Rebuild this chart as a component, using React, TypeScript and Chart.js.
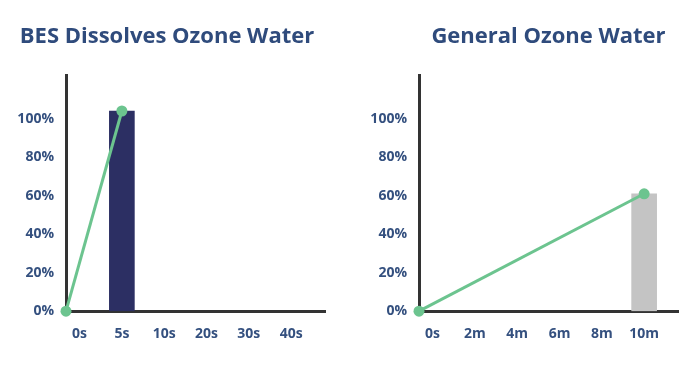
import React, { useEffect, useRef } from "react";
import { Chart, registerables } from "chart.js";

Chart.register(...registerables);

// ---- data ----
const leftTitle = "BES Dissolves Ozone Water";
const leftLabels = ["0s", "5s", "10s", "20s", "30s", "40s"];
const leftBarIndex = 1; // 5s
const leftBarValue = 104;
const leftLineStart = 0;
const leftLineEnd = 104;

const rightTitle = "General Ozone Water";
const rightLabels = ["0s", "2m", "4m", "6m", "8m", "10m"];
const rightBarIndex = 5; // 10m
const rightBarValue = 61;
const rightLineStart = 0;
const rightLineEnd = 61;

const yTicks = [0, 20, 40, 60, 80, 100];

// ---- style ----
const TEXT = "#2f4b7c";
const TICK = "#34507f";
const AXIS = "#333333";
const GREEN = "#6cc48f";
const FONT = "'Open Sans'";
const X_MIN = -0.32;
const X_MAX = 5.8;
const Y_MAX = 122.5;

type Props = {
  title: string;
  labels: string[];
  barIndex: number;
  barValue: number;
  lineStart: number;
  lineEnd: number;
  barColor: string;
  yAxisWidth: number;
  padLeft: number;
  padRight: number;
  titleFull: boolean;
  left: number;
  width: number;
};

function OzoneChart(p: Props) {
  const ref = useRef<HTMLCanvasElement | null>(null);
  useEffect(() => {
    if (!ref.current) return;
    const chart = new Chart(ref.current, {
      type: "bar",
      data: {
        datasets: [
          {
            type: "line",
            data: [
              { x: X_MIN, y: p.lineStart },
              { x: p.barIndex, y: p.lineEnd },
            ],
            borderColor: GREEN,
            backgroundColor: GREEN,
            borderWidth: 3,
            pointRadius: 5.5,
            pointBorderWidth: 0,
            pointBackgroundColor: GREEN,
            clip: false as any,
            order: 0,
          } as any,
          {
            type: "bar",
            data: [{ x: p.barIndex, y: p.barValue }],
            backgroundColor: p.barColor,
            barThickness: 25,
            order: 1,
          } as any,
        ],
      },
      options: {
        animation: false,
        responsive: true,
        maintainAspectRatio: false,
        layout: { padding: { left: p.padLeft, right: p.padRight, top: 0, bottom: 21 } },
        plugins: {
          legend: { display: false },
          tooltip: { enabled: false },
          title: {
            display: true,
            text: p.title,
            color: TEXT,
            fullSize: p.titleFull,
            font: { family: FONT, size: 22, weight: "bold" },
            padding: { top: 24, bottom: 25 },
          },
        },
        scales: {
          x: {
            type: "linear",
            offset: false,
            min: X_MIN,
            max: X_MAX,
            grid: { display: false, drawTicks: false, offset: false },
            border: { display: true, color: AXIS, width: 3 },
            afterBuildTicks: (s: any) => {
              s.ticks = p.labels.map((_, i) => ({ value: i }));
            },
            ticks: {
              autoSkip: false,
              maxRotation: 0,
              padding: 14,
              color: TICK,
              font: { family: FONT, size: 14, weight: "bold" },
              callback: (v: any) => p.labels[v as number] ?? "",
            },
          },
          y: {
            min: 0,
            max: Y_MAX,
            grid: { display: false, drawTicks: false },
            border: { display: true, color: AXIS, width: 3 },
            afterBuildTicks: (s: any) => {
              s.ticks = yTicks.map((v) => ({ value: v }));
            },
            afterFit: (s: any) => {
              s.width = p.yAxisWidth;
            },
            ticks: {
              padding: 12,
              color: TICK,
              font: { family: FONT, size: 14, weight: "bold" },
              callback: (v: any) => v + "%",
            },
          },
        },
      },
    } as any);
    return () => chart.destroy();
  }, []);
  return (
    <div
      style={{
        position: "absolute",
        left: p.left,
        top: 0,
        width: p.width,
        height: 377,
      }}
    >
      <canvas ref={ref} />
    </div>
  );
}

export default function App() {
  return (
    <div
      style={{
        position: "absolute",
        left: 0,
        top: 0,
        width: 700,
        height: 377,
        background: "#ffffff",
        overflow: "hidden",
      }}
    >
      <OzoneChart
        title={leftTitle}
        labels={leftLabels}
        barIndex={leftBarIndex}
        barValue={leftBarValue}
        lineStart={leftLineStart}
        lineEnd={leftLineEnd}
        barColor="#2c2f63"
        yAxisWidth={57}
        padLeft={9}
        padRight={9}
        titleFull={true}
        left={0}
        width={334}
      />
      <OzoneChart
        title={rightTitle}
        labels={rightLabels}
        barIndex={rightBarIndex}
        barValue={rightBarValue}
        lineStart={rightLineStart}
        lineEnd={rightLineEnd}
        barColor="#c4c4c4"
        yAxisWidth={69}
        padLeft={0}
        padRight={22}
        titleFull={false}
        left={350}
        width={350}
      />
    </div>
  );
}
